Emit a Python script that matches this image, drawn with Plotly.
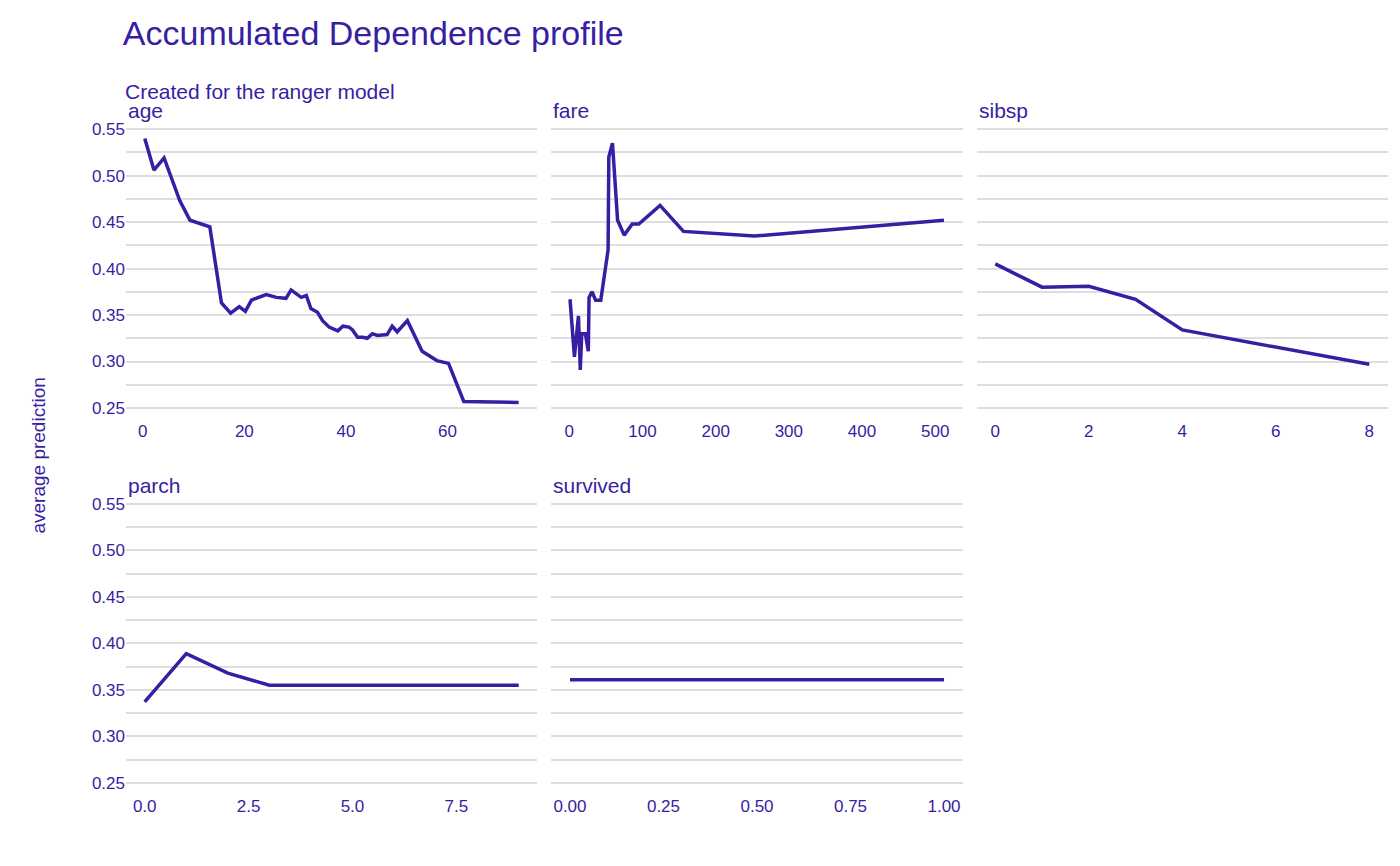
import plotly.graph_objects as go
from plotly.subplots import make_subplots

COLOR = "#371ea3"

age_x = [0.4, 2.2, 4.2, 7.3, 9.3, 13.2, 15.5, 17.3, 19.0, 20.2, 21.4, 22.7, 24.3, 26.3, 28.2,
         29.2, 31.2, 32.2, 33.1, 34.4, 35.4, 36.7, 38.4, 39.4, 40.6, 41.3, 42.3, 43.3, 44.2,
         45.2, 46.2, 48.1, 49.1, 50.1, 52.1, 55.0, 57.9, 60.2, 63.2, 74.0]
age_y = [0.540, 0.506, 0.519, 0.473, 0.452, 0.445, 0.363, 0.352, 0.359, 0.354, 0.366, 0.369,
         0.372, 0.369, 0.368, 0.377, 0.369, 0.371, 0.357, 0.353, 0.344, 0.337, 0.333, 0.338,
         0.337, 0.334, 0.326, 0.326, 0.325, 0.330, 0.328, 0.329, 0.338, 0.332, 0.344, 0.311,
         0.301, 0.298, 0.257, 0.256]

fare_x = [1, 7, 12.5, 15, 17, 22, 26, 27, 31, 36, 43, 53, 54, 59, 66, 75, 86, 95, 124, 156, 253, 512]
fare_y = [0.367, 0.305, 0.349, 0.291, 0.330, 0.330, 0.311, 0.369, 0.375, 0.366, 0.366, 0.420,
          0.520, 0.535, 0.452, 0.436, 0.448, 0.448, 0.468, 0.440, 0.435, 0.452]

sibsp_x = [0, 1, 2, 3, 4, 8]
sibsp_y = [0.405, 0.380, 0.381, 0.367, 0.334, 0.297]

parch_x = [0, 1, 2, 3, 9]
parch_y = [0.337, 0.389, 0.368, 0.355, 0.355]

survived_x = [0, 1]
survived_y = [0.361, 0.361]

panels = [("age", age_x, age_y, 1, 1, None),
          ("fare", fare_x, fare_y, 1, 2, None),
          ("sibsp", sibsp_x, sibsp_y, 1, 3, None),
          ("parch", parch_x, parch_y, 2, 1, ["0.0", "2.5", "5.0", "7.5"]),
          ("survived", survived_x, survived_y, 2, 2, ["0.00", "0.25", "0.50", "0.75", "1.00"])]

FONT = "Liberation Sans, Arial"
fig = make_subplots(rows=2, cols=3, horizontal_spacing=0.011, vertical_spacing=0.109)

tick_font = dict(family=FONT, size=17, color=COLOR)

for name, xs, ys, r, c, labels in panels:
    fig.add_trace(go.Scatter(x=xs, y=ys, mode="lines", line=dict(color=COLOR, width=3.5),
                             showlegend=False, name=name), row=r, col=c)
    xa = dict(showgrid=False, zeroline=False, showline=False, tickfont=tick_font, ticks="")
    if name == "parch":
        xa.update(tickvals=[0, 2.5, 5, 7.5], ticktext=labels, range=[-0.45, 9.45])
    if name == "survived":
        xa.update(tickvals=[0, 0.25, 0.5, 0.75, 1], ticktext=labels, range=[-0.05, 1.05])
    if name == "age":
        xa.update(dtick=20, range=[-3.3, 77.7])
    if name == "fare":
        xa.update(dtick=100, range=[-24.6, 537.6])
    if name == "sibsp":
        xa.update(dtick=2, range=[-0.4, 8.4])
    fig.update_xaxes(row=r, col=c, **xa)
    fig.update_yaxes(row=r, col=c, range=[0.238, 0.562], dtick=0.05, tickformat=".2f",
                     showgrid=True, gridcolor="#dedede", gridwidth=1.5, zeroline=False,
                     minor=dict(dtick=0.025, showgrid=True, gridcolor="#dedede", gridwidth=1.5),
                     showticklabels=(c == 1), tickfont=tick_font, ticks="")
    # panel title
    xref = fig.get_subplot(r, c).xaxis.plotly_name.replace("axis", "")
    yref = fig.get_subplot(r, c).yaxis.plotly_name.replace("axis", "")
    fig.add_annotation(text=name, x=0, y=1.0, xref=f"{xref} domain", yref=f"{yref} domain",
                       xanchor="left", yanchor="bottom", yshift=-6, showarrow=False,
                       font=dict(family=FONT, size=21, color=COLOR))

fig.add_annotation(text="average prediction", x=-0.08, y=0.5, xref="paper", yref="paper",
                   textangle=-90, showarrow=False,
                   font=dict(family=FONT, size=19, color=COLOR))

fig.update_layout(
    width=1400, height=866,
    margin=dict(l=118, r=20, t=110, b=80),
    plot_bgcolor="white", paper_bgcolor="white",
    title=dict(text="Accumulated Dependence profile", x=0.082, xanchor="left", y=0.985, yanchor="top",
               font=dict(family=FONT, size=34, color=COLOR)),
)
fig.add_annotation(text="Created for the ranger model", x=-0.002, y=1.0, xref="paper", yref="paper",
                   yshift=13, xanchor="left", yanchor="bottom", showarrow=False,
                   font=dict(family=FONT, size=21, color=COLOR))

fig.write_html("out.html")
